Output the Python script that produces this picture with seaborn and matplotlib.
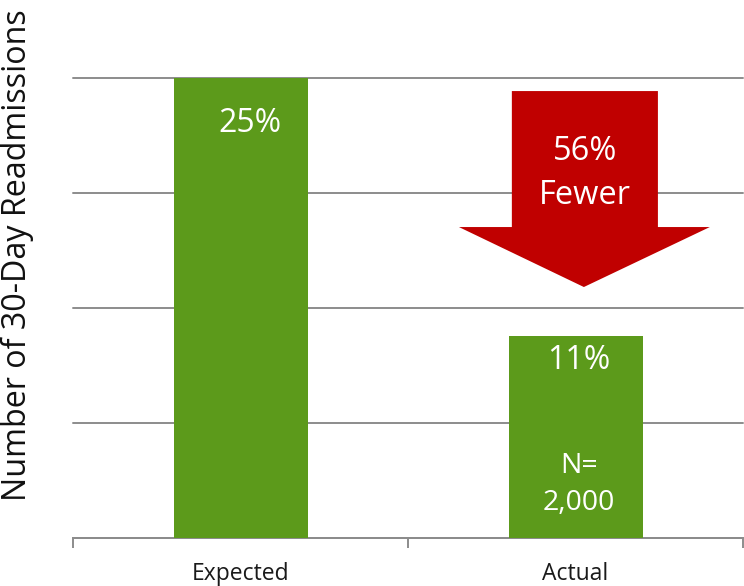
import matplotlib
matplotlib.use("Agg")
import matplotlib.pyplot as plt
from matplotlib.patches import Polygon
import seaborn as sns
import pandas as pd

# Readmission rates, expected vs. actual
groups = ["Expected", "Actual"]
rates = [25, 11]
rate_labels = ["25%", "11%"]
reduction_lines = ["56%", "Fewer"]
sample_lines = ["N=", "2,000"]

sns.set_theme(style="white")
plt.rcParams["font.family"] = ["Open Sans", "DejaVu Sans"]

df = pd.DataFrame({"group": groups, "rate": rates})

fig = plt.figure(figsize=(7.44, 5.86), dpi=100)
ax = fig.add_axes([73 / 744, 48 / 586, 670 / 744, 460 / 586])

green = "#5C9A1B"
grid_gray = "#8C8C8C"

sns.barplot(data=df, x="group", y="rate", color=green, width=0.4,
            saturation=1, linewidth=0, edgecolor=green, ax=ax, zorder=3)

ymax = 25
ax.set_ylim(0, ymax)
ax.set_xlim(-0.5, 1.5)
ax.set_yticks([ymax * i / 4 for i in range(5)])
ax.set_yticklabels([])
ax.yaxis.grid(True, color=grid_gray, linewidth=1.4)
ax.set_axisbelow(True)
for gl in ax.get_ygridlines():
    gl.set_clip_on(False)

for side in ["left", "right", "top"]:
    ax.spines[side].set_visible(False)
ax.spines["bottom"].set_color(grid_gray)
ax.spines["bottom"].set_linewidth(1.4)

# category separators below the baseline
ax.set_xticks([-0.5, 0.5, 1.5], minor=True)
ax.tick_params(axis="x", which="minor", bottom=True, length=7,
               width=1.4, color=grid_gray, direction="out")
ax.tick_params(axis="x", which="major", bottom=False, length=0, pad=17,
               labelsize=16.5, labelcolor="#1a1a1a")
ax.tick_params(axis="y", left=False, length=0)
ax.set_xlabel("")
ax.set_ylabel("Number of 30-Day Readmissions", fontsize=23.2,
              color="#111111")
ax.yaxis.set_label_coords(-0.058, 0.615)

# value labels inside the bars
label_y = [22.53, 9.65]
label_dx = [0.027, 0.009]
for i, (txt, ly, dx) in enumerate(zip(rate_labels, label_y, label_dx)):
    ax.text(i + dx, ly, txt, ha="center", va="center", color="white",
            fontsize=23, zorder=5)

for txt, ly in zip(sample_lines, [3.91, 1.90]):
    ax.text(1.01, ly, txt, ha="center", va="center", color="white",
            fontsize=20.5, zorder=5)

# downward arrow marking the reduction
arrow = Polygon([(0.810, 24.29), (1.246, 24.29), (1.246, 16.90),
                 (1.401, 16.90), (1.025, 13.64), (0.652, 16.90),
                 (0.810, 16.90)],
                closed=True, facecolor="#C00000", edgecolor="none",
                zorder=4, clip_on=False)
ax.add_patch(arrow)
for txt, ly in zip(reduction_lines, [21.0, 18.59]):
    ax.text(1.028, ly, txt, ha="center", va="center", color="white",
            fontsize=23.5, zorder=5)

fig.savefig("out.png", dpi=100)
